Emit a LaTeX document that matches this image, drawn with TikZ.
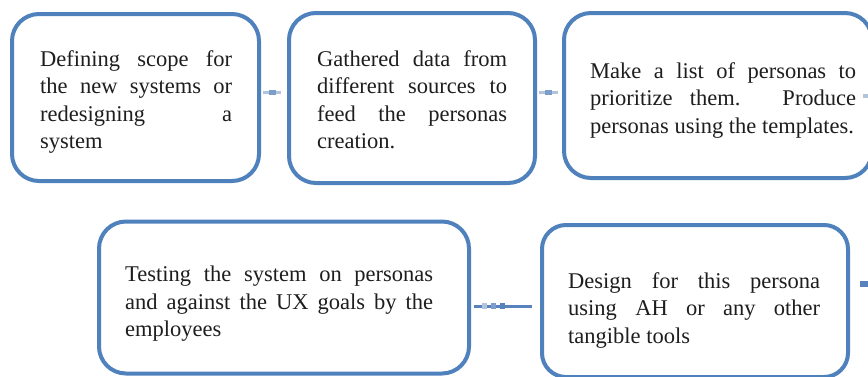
\documentclass[tikz,border=0pt]{standalone}
\usepackage{fontspec}
\setmainfont{Liberation Serif}
\definecolor{boxblue}{RGB}{79,129,189}
\definecolor{connlight}{RGB}{178,196,220}
\definecolor{connmid}{RGB}{125,158,202}
\definecolor{conndark}{RGB}{88,130,190}
\definecolor{txtcol}{RGB}{30,30,30}
\begin{document}
\begin{tikzpicture}[x=1pt,y=-1pt,
  flowbox/.style={draw=boxblue, line width=4pt, rounded corners=27pt, inner sep=0pt, fill=white},
  flowtext/.style={anchor=north west, inner sep=0pt, align=justify, text=txtcol,
    font=\fontsize{22.5}{27.5}\selectfont},
  connbase/.style={draw=connlight, line width=3.5pt},
  connsoft/.style={draw=connmid, line width=4.5pt}]
\useasboundingbox (0,0) rectangle (868,376);
\fill[white] (0,0) rectangle (868,376);

% boxes
\node[flowbox, minimum width=247pt, minimum height=167pt] (b1) at (135.5,97.5) {};
\node[flowbox, minimum width=246pt, minimum height=170pt] (b2) at (412,98) {};
\node[flowbox, minimum width=308pt, minimum height=165pt] (b3) at (718,95.5) {};
\node[flowbox, minimum width=370pt, minimum height=152pt] (b4) at (284,297.5) {};
\node[flowbox, minimum width=306pt, minimum height=152pt, rounded corners=24pt] (b5) at (695,301) {};

% texts
\node[flowtext, text width=192pt] (t1) at (40,50)
  {\noindent Defining scope for\linebreak the new systems or\linebreak redesigning a\linebreak system};
\node[flowtext, text width=190pt] (t2) at (317,50)
  {\noindent Gathered data from\linebreak different sources to\linebreak feed the personas\linebreak creation.};
\node[flowtext, text width=266pt] (t3) at (590,62)
  {\noindent Make a list of personas to\linebreak prioritize them. Produce\linebreak personas using the templates.};
\node[flowtext, text width=308pt] (t4) at (125,266)
  {\noindent Testing the system on personas\linebreak and against the UX goals by the\linebreak employees};
\node[flowtext, text width=252pt] (t5) at (568,272)
  {\noindent Design for this persona\linebreak using AH or any other\linebreak tangible tools};

% connectors
\draw[connbase, shorten <=2pt, shorten >=6pt] ([yshift=5pt]b1.east) -- ([yshift=5pt]b1.east -| b2.west);
\draw[connsoft, shorten <=8pt, shorten >=11pt] ([yshift=5pt]b1.east) -- ([yshift=5pt]b1.east -| b2.west);

\draw[connbase, shorten <=2pt, shorten >=4pt] ([yshift=5.5pt]b2.east) -- ([yshift=5.5pt]b2.east -| b3.west);
\draw[connsoft, shorten <=8pt, shorten >=10pt] ([yshift=5.5pt]b2.east) -- ([yshift=5.5pt]b2.east -| b3.west);

\draw[draw=conndark, line width=3pt, shorten <=3pt, shorten >=8pt] ([yshift=-8.5pt]b4.east) -- ([yshift=-8.5pt]b4.east -| b5.west);
\draw[draw=connlight, line width=6pt, shorten <=11pt, shorten >=53pt] ([yshift=-8.5pt]b4.east) -- ([yshift=-8.5pt]b4.east -| b5.west);
\draw[draw=connmid, line width=6pt, shorten <=20pt, shorten >=44pt] ([yshift=-8.5pt]b4.east) -- ([yshift=-8.5pt]b4.east -| b5.west);
\draw[draw=conndark, line width=6pt, shorten <=29pt, shorten >=35pt] ([yshift=-8.5pt]b4.east) -- ([yshift=-8.5pt]b4.east -| b5.west);

\coordinate (e5) at (868,284);
\draw[draw=conndark, line width=6pt, shorten <=10pt] (b5.east |- e5) -- (e5);
\coordinate (e3a) at (863,96);
\coordinate (e3b) at (868,96);
\draw[connbase] (e3a) -- (e3b);
\end{tikzpicture}
\end{document}
